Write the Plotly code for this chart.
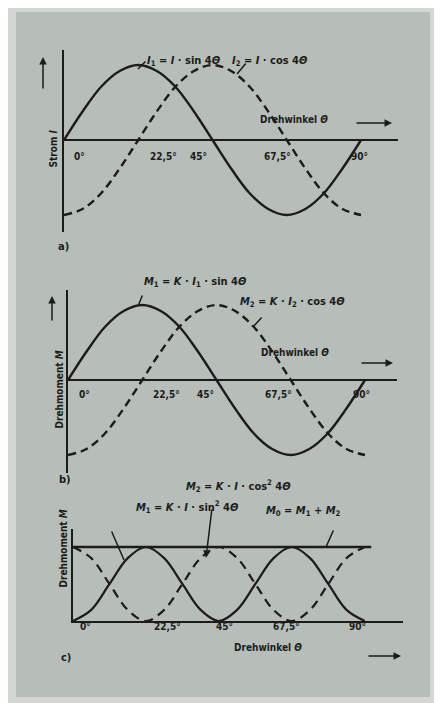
import plotly.graph_objects as go

# the page puts the figure 8 px in from the top-left corner
OFF = 8
W, H = 442 - OFF, 703 - OFF

# angles in degrees, sampled every 5.625 deg
ANGLES = [0, 5.625, 11.25, 16.875, 22.5, 28.125, 33.75, 39.375, 45,
          50.625, 56.25, 61.875, 67.5, 73.125, 78.75, 84.375, 90]

# panel a: currents
I1 = [0, 0.38, 0.71, 0.92, 1, 0.92, 0.71, 0.38, 0, -0.38, -0.71, -0.92, -1, -0.92, -0.71, -0.38, 0]
I2 = [-1, -0.92, -0.71, -0.38, 0, 0.38, 0.71, 0.92, 1, 0.92, 0.71, 0.38, 0, -0.38, -0.71, -0.92, -1]

# panel b: torques
M1 = [0, 0.38, 0.71, 0.92, 1, 0.92, 0.71, 0.38, 0, -0.38, -0.71, -0.92, -1, -0.92, -0.71, -0.38, 0]
M2 = [-1, -0.92, -0.71, -0.38, 0, 0.38, 0.71, 0.92, 1, 0.92, 0.71, 0.38, 0, -0.38, -0.71, -0.92, -1]

# panel c: squared torques and their sum
M1_SQ = [0, 0.15, 0.5, 0.85, 1, 0.85, 0.5, 0.15, 0, 0.15, 0.5, 0.85, 1, 0.85, 0.5, 0.15, 0]
M2_SQ = [1, 0.85, 0.5, 0.15, 0, 0.15, 0.5, 0.85, 1, 0.85, 0.5, 0.15, 0, 0.15, 0.5, 0.85, 1]
M0_X = [0, 92]
M0 = [1, 1]

TICK_LABELS = ["0°", "22,5°", "45°", "67,5°", "90°"]

INK = "#1b1c1b"
PANEL = "#b7bdb9"
BORDER = "#d2d7d2"
FONT = "Liberation Sans Narrow, DejaVu Sans Condensed, Arial Narrow, sans-serif"


def px(x, y):
    return (x - OFF) / W, 1 - (y - OFF) / H


def xdom(a, b):
    return [px(a, 0)[0], px(b, 0)[0]]


def ydom(top, bottom):
    return [px(0, bottom)[1], px(0, top)[1]]


def text(x, y, s, size=11, angle=0):
    xp, yp = px(x, y)
    return dict(x=xp, y=yp, xref="paper", yref="paper", text=s, showarrow=False,
                textangle=angle, font=dict(family=FONT, size=size, color=INK, weight="bold"))


def leader(x0, y0, x1, y1, head=0, width=1.5):
    xp, yp = px(x1, y1)
    return dict(x=xp, y=yp, xref="paper", yref="paper", text="", showarrow=True,
                axref="pixel", ayref="pixel", ax=x0 - x1, ay=y0 - y1,
                arrowhead=head, arrowsize=1, arrowwidth=width, arrowcolor=INK,
                standoff=0, startstandoff=0)


fig = go.Figure()

solid = dict(color=INK, width=2.4, shape="spline")
dashed = dict(color=INK, width=2.4, shape="spline", dash="8px,5px")

fig.add_trace(go.Scatter(x=ANGLES, y=I1, mode="lines", line=solid, xaxis="x", yaxis="y"))
fig.add_trace(go.Scatter(x=ANGLES, y=I2, mode="lines", line=dashed, xaxis="x", yaxis="y"))
fig.add_trace(go.Scatter(x=ANGLES, y=M1, mode="lines", line=solid, xaxis="x2", yaxis="y2"))
fig.add_trace(go.Scatter(x=ANGLES, y=M2, mode="lines", line=dashed, xaxis="x2", yaxis="y2"))
fig.add_trace(go.Scatter(x=ANGLES, y=M1_SQ, mode="lines",
                         line=dict(color=INK, width=2.2, shape="spline"), xaxis="x3", yaxis="y3"))
fig.add_trace(go.Scatter(x=ANGLES, y=M2_SQ, mode="lines",
                         line=dict(color=INK, width=2.2, shape="spline", dash="9px,6px"),
                         xaxis="x3", yaxis="y3"))
fig.add_trace(go.Scatter(x=M0_X, y=M0, mode="lines", line=dict(color=INK, width=2.6),
                         xaxis="x3", yaxis="y3"))

hidden_x = dict(showgrid=False, zeroline=False, showline=False, showticklabels=False, ticks="")
y_common = dict(showgrid=False, showticklabels=False, ticks="", showline=True,
                linecolor=INK, linewidth=2.4, zeroline=True, zerolinecolor=INK, zerolinewidth=2.4)

fig.update_layout(
    width=W, height=H, autosize=False,
    margin=dict(l=0, r=0, t=0, b=0),
    paper_bgcolor=BORDER, plot_bgcolor="rgba(0,0,0,0)",
    showlegend=False,
    xaxis=dict(hidden_x, domain=xdom(64, 398), range=[0, 101.2]),
    yaxis=dict(y_common, domain=ydom(50, 232), range=[-1.227, 1.2], anchor="x"),
    xaxis2=dict(hidden_x, domain=xdom(68, 397), range=[0, 99.7], anchor="y2"),
    yaxis2=dict(y_common, domain=ydom(290, 473), range=[-1.24, 1.2], anchor="x2"),
    xaxis3=dict(hidden_x, domain=xdom(73, 403), range=[0, 101.8], anchor="y3",
                showline=True, linecolor=INK, linewidth=2.4),
    yaxis3=dict(showgrid=False, showticklabels=False, ticks="", zeroline=False,
                showline=True, linecolor=INK, linewidth=2.4,
                domain=ydom(529, 621), range=[0, 1.243], anchor="x3"),
)

x0, y0 = px(16, 12)
x1, y1 = px(430, 697)
fig.add_shape(type="rect", xref="paper", yref="paper", x0=x0, x1=x1, y0=y1, y1=y0,
              fillcolor=PANEL, line=dict(width=0), layer="below")

ann = []

# panel a
ann.append(text(145, 52, "<i>I</i><sub>1</sub> = <i>I</i> · sin 4<i>Θ</i>"))
ann.append(text(270, 52, "<i>I</i><sub>2</sub> = <i>I</i> · cos 4<i>Θ</i>"))
ann.append(leader(147, 60, 138, 69))
ann.append(leader(247, 62, 237, 74))
ann.append(text(330, 112, "Drehwinkel <i>Θ</i>", size=10))
ann.append(leader(355, 123, 392, 123, head=2))
ann.append(text(45, 128, "Strom <i>I</i>", size=10, angle=-90))
ann.append(leader(43, 90, 43, 57, head=2))
for label, xx in zip(TICK_LABELS, [72, 148, 198, 277, 370]):
    ann.append(text(xx, 149, label, size=10))
ann.append(text(56, 247, "a)", size=11))

# panel b
ann.append(text(142, 282, "<i>M</i><sub>1</sub> = <i>K</i> · <i>I</i><sub>1</sub> · sin 4<i>Θ</i>"))
ann.append(text(292, 302, "<i>M</i><sub>2</sub> = <i>K</i> · <i>I</i><sub>2</sub> · cos 4<i>Θ</i>"))
ann.append(leader(143, 294, 138, 306))
ann.append(leader(263, 316, 253, 327))
ann.append(text(331, 352, "Drehwinkel <i>Θ</i>", size=10))
ann.append(leader(360, 363, 393, 363, head=2))
ann.append(text(52, 390, "Drehmoment <i>M</i>", size=10, angle=-90))
ann.append(leader(52, 322, 52, 296, head=2))
for label, xx in zip(TICK_LABELS, [77, 151, 205, 278, 372]):
    ann.append(text(xx, 394, label, size=10))
ann.append(text(57, 488, "b)", size=11))

# panel c
ann.append(text(134, 517, "<i>M</i><sub>1</sub> = <i>K</i> · <i>I</i> · sin<sup>2</sup> 4<i>Θ</i>"))
ann.append(text(238, 496, "<i>M</i><sub>2</sub> = <i>K</i> · <i>I</i> · cos<sup>2</sup> 4<i>Θ</i>"))
ann.append(text(343, 520, "<i>M</i><sub>0</sub> = <i>M</i><sub>1</sub> + <i>M</i><sub>2</sub>"))
ann.append(leader(111, 530, 124, 560))
ann.append(leader(212, 508, 206, 558, head=2))
ann.append(leader(334, 529, 326, 547))
for label, xx in zip(TICK_LABELS, [78, 152, 224, 302, 368]):
    ann.append(text(xx, 634, label, size=10))
ann.append(text(304, 655, "Drehwinkel <i>Θ</i>", size=10))
ann.append(leader(367, 656, 401, 656, head=2))
ann.append(text(55, 590, "Drehmoment <i>M</i>", size=10, angle=-90))
ann.append(text(59, 666, "c)", size=11))

fig.update_layout(annotations=ann)

fig.write_html("out.html")
